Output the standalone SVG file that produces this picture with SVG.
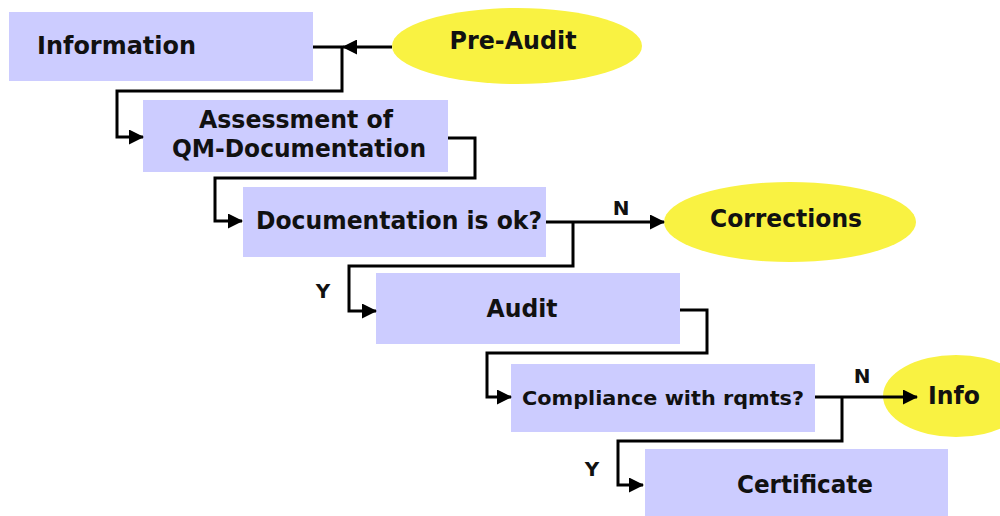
<svg xmlns="http://www.w3.org/2000/svg" width="1000" height="516" viewBox="0 0 1000 516">
<style>
.box{fill:#CCCCFF}
.ell{fill:#F9F242}
.t{font-family:"DejaVu Sans",Verdana,sans-serif;font-weight:bold;font-size:25px;fill:#111}
.s{font-family:"DejaVu Sans",Verdana,sans-serif;font-weight:bold;font-size:20px;fill:#111}
.c{text-anchor:middle}
.ln{fill:none;stroke:#000;stroke-width:3}
</style>
<defs>
<marker id="ah" markerUnits="userSpaceOnUse" markerWidth="15" markerHeight="15" refX="14" refY="7.5" orient="auto">
<path d="M0,0 L15,7.5 L0,15 z" fill="#000"/>
</marker>
</defs>
<rect width="1000" height="516" fill="#fff"/>
<g id="information"><rect class="box" x="9" y="12" width="304" height="69"/><text class="t" x="37" y="54" textLength="159" lengthAdjust="spacingAndGlyphs">Information</text></g>
<g id="pre-audit"><ellipse class="ell" cx="517" cy="46" rx="125" ry="38"/><text class="t c" x="513" y="49" textLength="127" lengthAdjust="spacingAndGlyphs">Pre-Audit</text></g>
<g id="assessment"><rect class="box" x="143" y="100" width="305" height="72"/><text class="t c" x="296" y="128" textLength="194" lengthAdjust="spacingAndGlyphs">Assessment of</text><text class="t c" x="299" y="157" textLength="254" lengthAdjust="spacingAndGlyphs">QM-Documentation</text></g>
<g id="documentation"><rect class="box" x="243" y="187" width="303" height="70"/><text class="t" x="256" y="229" textLength="286" lengthAdjust="spacingAndGlyphs">Documentation is ok?</text></g>
<g id="corrections"><ellipse class="ell" cx="790" cy="222" rx="126" ry="40"/><text class="t c" x="786" y="227" textLength="152" lengthAdjust="spacingAndGlyphs">Corrections</text></g>
<g id="audit"><rect class="box" x="376" y="273" width="304" height="71"/><text class="t c" x="522" y="317" textLength="71" lengthAdjust="spacingAndGlyphs">Audit</text></g>
<g id="compliance"><rect class="box" x="511" y="364" width="304" height="68"/><text class="s" x="522" y="405" textLength="282" lengthAdjust="spacingAndGlyphs">Compliance with rqmts?</text></g>
<g id="info"><ellipse class="ell" cx="956" cy="396" rx="73" ry="41"/><text class="t c" x="954" y="404" textLength="52" lengthAdjust="spacingAndGlyphs">Info</text></g>
<g id="certificate"><rect class="box" x="645" y="449" width="303" height="70"/><text class="t c" x="805" y="493" textLength="136" lengthAdjust="spacingAndGlyphs">Certificate</text></g>
<g id="connectors">
<path class="ln" d="M392,47 H343" marker-end="url(#ah)"/>
<path class="ln" d="M313,47 H342 V91 H117 V137 H143" marker-end="url(#ah)"/>
<path class="ln" d="M448,138 H475 V178 H215 V221 H242" marker-end="url(#ah)"/>
<path class="ln" d="M546,222 H664" marker-end="url(#ah)"/>
<path class="ln" d="M573,222 V266 H349 V311 H376" marker-end="url(#ah)"/>
<path class="ln" d="M680,310 H707 V353 H487 V397 H511" marker-end="url(#ah)"/>
<path class="ln" d="M815,397 H917" marker-end="url(#ah)"/>
<path class="ln" d="M842,397 V441 H618 V485 H643" marker-end="url(#ah)"/>
<text class="s c" x="621" y="215">N</text>
<text class="s c" x="323" y="298">Y</text>
<text class="s c" x="862" y="383">N</text>
<text class="s c" x="592" y="476">Y</text>
</g>
</svg>
